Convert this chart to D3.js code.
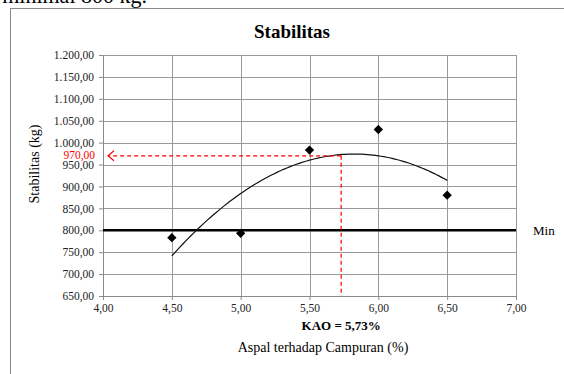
<!DOCTYPE html>
<html>
<head>
<meta charset="utf-8">
<script src="https://cdn.jsdelivr.net/npm/d3@7"></script>
<style>
  body { margin: 0; background: #fff; }
  text { font-family: "Liberation Serif", "Times New Roman", serif; }
</style>
</head>
<body>
<div id="chart"></div>
<script>
// kadar aspal (%) and stabilitas (kg)
const kadarAspal = [4.5, 5.0, 5.5, 6.0, 6.5];
const stabilitas = [783, 793, 983, 1030, 880];
const xTicks = [4.0, 4.5, 5.0, 5.5, 6.0, 6.5, 7.0];
const yTicks = [650, 700, 750, 800, 850, 900, 950, 1000, 1050, 1100, 1150, 1200];
const batasMin = 800;
const kao = 5.73;
const stabKao = 970;

const width = 564, height = 374;
const margin = { top: 55, left: 103, right: 48, bottom: 78 };

const fmt = v => d3.format(",.2f")(v).replace(/,/g, "#").replace(".", ",").replace(/#/g, ".");

const svg = d3.select('#chart').append('svg')
    .attr('width', width)
    .attr('height', height);

// cropped text line above the figure
svg.append('text')
    .attr('x', 147).attr('y', 3)
    .attr('text-anchor', 'end')
    .attr('font-size', 22)
    .text('Stabilitas minimal 800 kg.');

// chart frame
svg.append('rect')
    .attr('x', 10.5).attr('y', 8.5)
    .attr('width', 600).attr('height', 400)
    .attr('fill', '#fff')
    .attr('stroke', '#8a8a8a');

let x = d3.scaleLinear().domain([4, 7]).range([margin.left, width - margin.right]);
let y = d3.scaleLinear().domain([650, 1200]).range([height - margin.bottom, margin.top]);

// grid
svg.append('g').selectAll('line').data(yTicks).enter().append('line')
    .attr('x1', x(4)).attr('x2', x(7))
    .attr('y1', d => Math.round(y(d)) + 0.5).attr('y2', d => Math.round(y(d)) + 0.5)
    .attr('stroke', '#9a9a9a');
svg.append('g').selectAll('line').data(xTicks).enter().append('line')
    .attr('y1', y(650)).attr('y2', y(1200))
    .attr('x1', d => Math.round(x(d)) + 0.5).attr('x2', d => Math.round(x(d)) + 0.5)
    .attr('stroke', '#9a9a9a');

//-----axes-------
let xAxis = d3.axisBottom(x).tickValues(xTicks).tickFormat(fmt).tickSize(4).tickPadding(4);
let yAxis = d3.axisLeft(y).tickValues(yTicks).tickFormat(fmt).tickSize(4).tickPadding(5);

let gx = svg.append('g').attr('transform', 'translate(0,' + y(650) + ')').call(xAxis);
let gy = svg.append('g').attr('transform', 'translate(' + x(4) + ',0)').call(yAxis);
[gx, gy].forEach(g => {
    g.selectAll('path, line').attr('stroke', '#8a8a8a');
    g.selectAll('text').attr('font-size', 11.5).attr('fill', '#222');
});

// minimum line
svg.append('line')
    .attr('x1', x(4)).attr('x2', x(7))
    .attr('y1', y(batasMin)).attr('y2', y(batasMin))
    .attr('stroke', '#000').attr('stroke-width', 2.5);
svg.append('text')
    .attr('x', x(7) + 17).attr('y', y(batasMin) + 5)
    .attr('font-size', 13)
    .text('Min');

// polynomial (order 2) trendline, least squares on the data
function fitQuad(xs, ys) {
    let s = [0, 0, 0, 0, 0], t = [0, 0, 0];
    xs.forEach((xi, i) => {
        for (let k = 0; k < 5; k++) s[k] += Math.pow(xi, k);
        for (let k = 0; k < 3; k++) t[k] += Math.pow(xi, k) * ys[i];
    });
    let m = [[s[0], s[1], s[2], t[0]], [s[1], s[2], s[3], t[1]], [s[2], s[3], s[4], t[2]]];
    for (let i = 0; i < 3; i++) {
        for (let j = i + 1; j < 3; j++) {
            let f = m[j][i] / m[i][i];
            for (let k = i; k < 4; k++) m[j][k] -= f * m[i][k];
        }
    }
    let c = [0, 0, 0];
    for (let i = 2; i >= 0; i--) {
        let v = m[i][3];
        for (let k = i + 1; k < 3; k++) v -= m[i][k] * c[k];
        c[i] = v / m[i][i];
    }
    return xv => c[0] + c[1] * xv + c[2] * xv * xv;
}
let trend = fitQuad(kadarAspal, stabilitas);
let xs = d3.range(kadarAspal[0], kadarAspal[kadarAspal.length - 1] + 0.001, 0.02);
svg.append('path')
    .datum(xs)
    .attr('fill', 'none').attr('stroke', '#111').attr('stroke-width', 1.2)
    .attr('d', d3.line().x(d => x(d)).y(d => y(trend(d))));

// red dashed guides
svg.append('line')
    .attr('x1', x(kao)).attr('x2', x(kao))
    .attr('y1', y(stabKao)).attr('y2', y(650))
    .attr('stroke', 'red').attr('stroke-width', 1.2).attr('stroke-dasharray', '4,3');
svg.append('line')
    .attr('x1', x(kao)).attr('x2', x(4) + 5)
    .attr('y1', y(stabKao)).attr('y2', y(stabKao))
    .attr('stroke', 'red').attr('stroke-width', 1.2).attr('stroke-dasharray', '4,3');
svg.append('path')
    .attr('d', 'M' + (x(4) + 11) + ',' + (y(stabKao) - 5) + 'L' + (x(4) + 5) + ',' + y(stabKao) + 'L' + (x(4) + 11) + ',' + (y(stabKao) + 5))
    .attr('fill', 'none').attr('stroke', 'red').attr('stroke-width', 1.1);
svg.append('text')
    .attr('x', x(4) - 8).attr('y', y(stabKao) + 3)
    .attr('text-anchor', 'end').attr('font-size', 11.5).attr('fill', 'red')
    .text(fmt(stabKao));

// data markers
svg.append('g').selectAll('path').data(kadarAspal).enter().append('path')
    .attr('d', d3.symbol().type(d3.symbolDiamond2).size(55))
    .attr('transform', (d, i) => 'translate(' + x(d) + ',' + y(stabilitas[i]) + ')')
    .attr('fill', '#000');

// labels
svg.append('text')
    .attr('x', 292).attr('y', 38)
    .attr('text-anchor', 'middle').attr('font-size', 19).attr('font-weight', 'bold')
    .text('Stabilitas');
svg.append('text')
    .attr('x', x(kao)).attr('y', 330)
    .attr('text-anchor', 'middle').attr('font-size', 13).attr('font-weight', 'bold')
    .text('KAO = ' + d3.format('.2f')(kao).replace('.', ',') + '%');
svg.append('text')
    .attr('x', 323).attr('y', 352)
    .attr('text-anchor', 'middle').attr('font-size', 14)
    .text('Aspal terhadap Campuran (%)');
svg.append('text')
    .attr('transform', 'translate(39,164) rotate(-90)')
    .attr('text-anchor', 'middle').attr('font-size', 14)
    .text('Stabilitas (kg)');
</script>
</body>
</html>
